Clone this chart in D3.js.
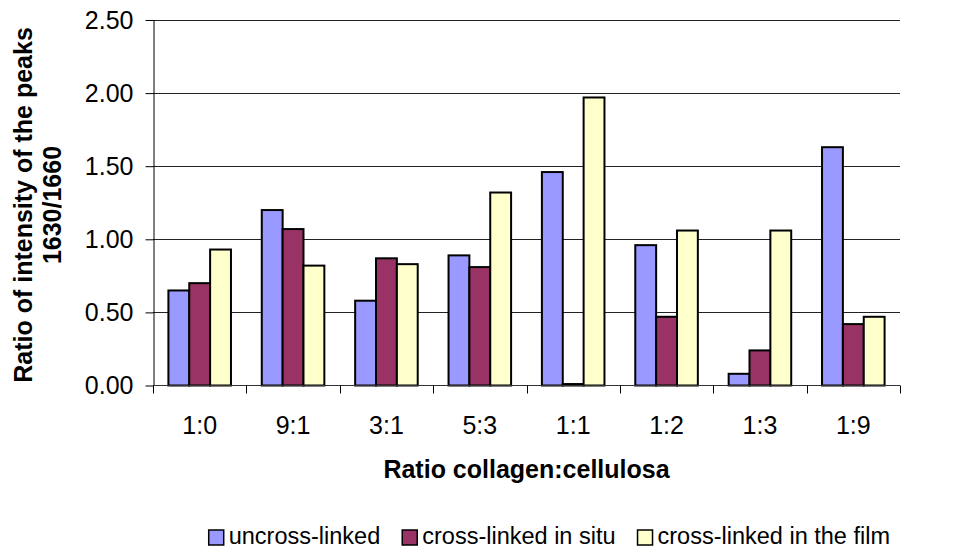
<!DOCTYPE html>
<html>
<head>
<meta charset="utf-8">
<script src="https://cdn.jsdelivr.net/npm/d3@7"></script>
<style>
  html, body { margin: 0; padding: 0; background: #fff; }
  svg { display: block; font-family: "Liberation Sans", Arial, sans-serif; }
</style>
</head>
<body>
<svg id="chart" width="954" height="553"></svg>
<script>
// Collagen:cellulose ratios on the x axis
const categories = ["1:0", "9:1", "3:1", "5:3", "1:1", "1:2", "1:3", "1:9"];
// Series names and colours
const seriesNames = ["uncross-linked", "cross-linked in situ", "cross-linked in the film"];
const seriesColors = ["#9999FF", "#993366", "#FFFFCC"];
// Ratio of intensity of the peaks 1630/1660 for each series
const uncrossLinked = [0.65, 1.20, 0.58, 0.89, 1.46, 0.96, 0.08, 1.63];
const crossLinkedInSitu = [0.70, 1.07, 0.87, 0.81, 0.01, 0.47, 0.24, 0.42];
const crossLinkedInFilm = [0.93, 0.82, 0.83, 1.32, 1.97, 1.06, 1.06, 0.47];
const yTicks = [0, 0.5, 1.0, 1.5, 2.0, 2.5];

const seriesValues = [uncrossLinked, crossLinkedInSitu, crossLinkedInFilm];

const svg = d3.select("#chart");
const plot = { left: 153, right: 900, top: 20, bottom: 385.5 };

const x0 = d3.scaleBand().domain(categories).range([plot.left, plot.right]).padding(0);
const bw = x0.bandwidth();
const x1 = d3.scaleBand().domain(d3.range(seriesNames.length))
  .range([bw * 0.165, bw * 0.835]).padding(0);
const y = d3.scaleLinear().domain([0, 2.5]).range([plot.bottom, plot.top]);

// Horizontal gridlines
svg.append("g").selectAll("line").data(yTicks.filter(d => d > 0)).join("line")
  .attr("x1", plot.left).attr("x2", plot.right)
  .attr("y1", d => Math.round(y(d)) + 0.5).attr("y2", d => Math.round(y(d)) + 0.5)
  .attr("stroke", "#222").attr("stroke-width", 1);

// Y axis
const yAxis = d3.axisLeft(y).tickValues(yTicks).tickFormat(d3.format(".2f"))
  .tickSizeInner(8).tickSizeOuter(0).tickPadding(12);
const gy = svg.append("g").attr("transform", `translate(${plot.left + 0.5},0)`).call(yAxis);
gy.select(".domain").attr("stroke", "#000");
gy.selectAll(".tick line").attr("stroke", "#000");
gy.selectAll(".tick text").attr("font-size", 25).attr("fill", "#000")
  .attr("font-family", "'Liberation Sans', Arial, sans-serif");

// Bars
const groups = svg.append("g").selectAll("g").data(categories).join("g")
  .attr("transform", c => `translate(${x0(c)},0)`);
groups.selectAll("rect")
  .data((c, i) => seriesValues.map((vals, s) => ({ s, v: vals[i] })))
  .join("rect")
  .attr("x", d => x1(d.s))
  .attr("width", x1.bandwidth())
  .attr("y", d => y(d.v))
  .attr("height", d => y(0) - y(d.v))
  .attr("fill", d => seriesColors[d.s])
  .attr("stroke", "#000").attr("stroke-width", 2);

// X axis with ticks between categories
const gx = svg.append("g").attr("transform", `translate(0,${plot.bottom})`);
gx.append("line").attr("x1", plot.left).attr("x2", plot.right)
  .attr("y1", 0).attr("y2", 0).attr("stroke", "#333").attr("stroke-width", 1);
const bounds = categories.map(c => x0(c)).concat([plot.right]);
gx.selectAll("line.tk").data(bounds).join("line").attr("class", "tk")
  .attr("x1", d => Math.round(d) + 0.5).attr("x2", d => Math.round(d) + 0.5)
  .attr("y1", 0).attr("y2", 8).attr("stroke", "#000");
gx.selectAll("text").data(categories).join("text")
  .attr("x", c => x0(c) + bw / 2).attr("y", 48)
  .attr("text-anchor", "middle").attr("font-size", 25).attr("fill", "#000")
  .text(c => c);

// Axis titles
svg.append("text").attr("x", (plot.left + plot.right) / 2).attr("y", 478)
  .attr("text-anchor", "middle").attr("font-size", 25).attr("font-weight", "bold")
  .text("Ratio collagen:cellulosa");
const yt = svg.append("text").attr("transform", "translate(0,205) rotate(-90)")
  .attr("text-anchor", "middle").attr("font-size", 25).attr("font-weight", "bold");
yt.append("tspan").attr("x", 0).attr("y", 32).text("Ratio of intensity of the peaks");
yt.append("tspan").attr("x", 0).attr("y", 61).text("1630/1660");

// Legend
const legend = svg.append("g");
let lx = 0;
const items = seriesNames.map((name, i) => {
  const g = legend.append("g");
  g.append("rect").attr("x", 0).attr("y", 530).attr("width", 15).attr("height", 15)
    .attr("fill", seriesColors[i]).attr("stroke", "#000").attr("stroke-width", 1.5);
  const t = g.append("text").attr("x", 20).attr("y", 544).attr("font-size", 23.5)
    .attr("fill", "#000").text(name);
  const w = 20 + t.node().getComputedTextLength();
  g.attr("transform", `translate(${lx},0)`);
  lx += w + 22;
  return g;
});
const legendWidth = lx - 22;
legend.attr("transform", `translate(${890 - legendWidth},0)`);
</script>
</body>
</html>
